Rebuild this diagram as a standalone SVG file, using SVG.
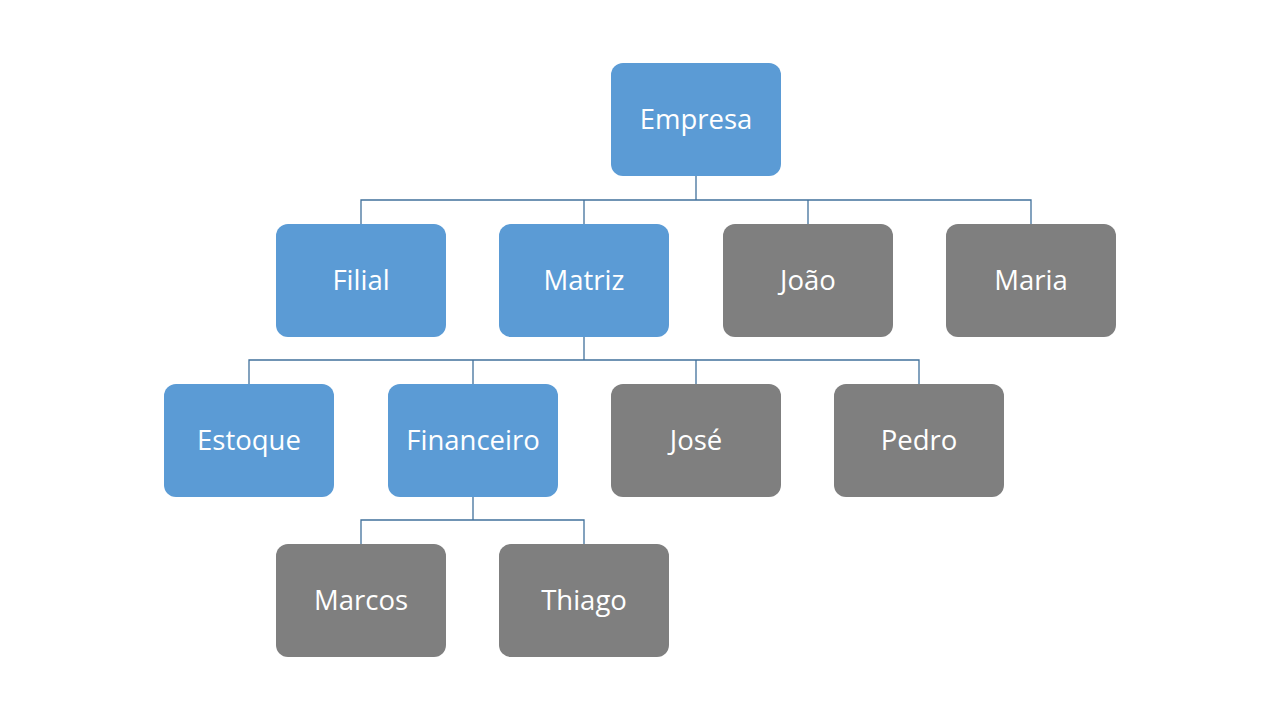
<svg xmlns="http://www.w3.org/2000/svg" width="1280" height="720" viewBox="0 0 1280 720">
<style>
.b{fill:#5B9BD5}
.g{fill:#7F7F7F}
.t{fill:#FFFFFF;font-family:"Open Sans","Liberation Sans",sans-serif;font-size:27.5px;text-anchor:middle;dominant-baseline:central}
.c{fill:none;stroke:#41719C;stroke-width:1.3}
</style>
<rect width="1280" height="720" fill="#FFFFFF"/>
<g id="connectors">
<path class="c" d="M696,176V200M361,224V200H1031V224M584,200V224M808,200V224"/>
<path class="c" d="M584,336V360M249,384V360H919V384M473,360V384M696,360V384"/>
<path class="c" d="M473,497V520M361,544V520H584V544"/>
</g>
<g id="empresa"><rect class="b" x="611" y="63" width="170" height="113" rx="12"/><text class="t" x="696" y="118">Empresa</text></g>
<g id="filial"><rect class="b" x="276" y="224" width="170" height="113" rx="12"/><text class="t" x="361" y="279">Filial</text></g>
<g id="matriz"><rect class="b" x="499" y="224" width="170" height="113" rx="12"/><text class="t" x="584" y="279">Matriz</text></g>
<g id="joao"><rect class="g" x="723" y="224" width="170" height="113" rx="12"/><text class="t" x="808" y="279">João</text></g>
<g id="maria"><rect class="g" x="946" y="224" width="170" height="113" rx="12"/><text class="t" x="1031" y="279">Maria</text></g>
<g id="estoque"><rect class="b" x="164" y="384" width="170" height="113" rx="12"/><text class="t" x="249" y="439">Estoque</text></g>
<g id="financeiro"><rect class="b" x="388" y="384" width="170" height="113" rx="12"/><text class="t" x="473" y="439">Financeiro</text></g>
<g id="jose"><rect class="g" x="611" y="384" width="170" height="113" rx="12"/><text class="t" x="696" y="439">José</text></g>
<g id="pedro"><rect class="g" x="834" y="384" width="170" height="113" rx="12"/><text class="t" x="919" y="439">Pedro</text></g>
<g id="marcos"><rect class="g" x="276" y="544" width="170" height="113" rx="12"/><text class="t" x="361" y="599">Marcos</text></g>
<g id="thiago"><rect class="g" x="499" y="544" width="170" height="113" rx="12"/><text class="t" x="584" y="599">Thiago</text></g>
</svg>
